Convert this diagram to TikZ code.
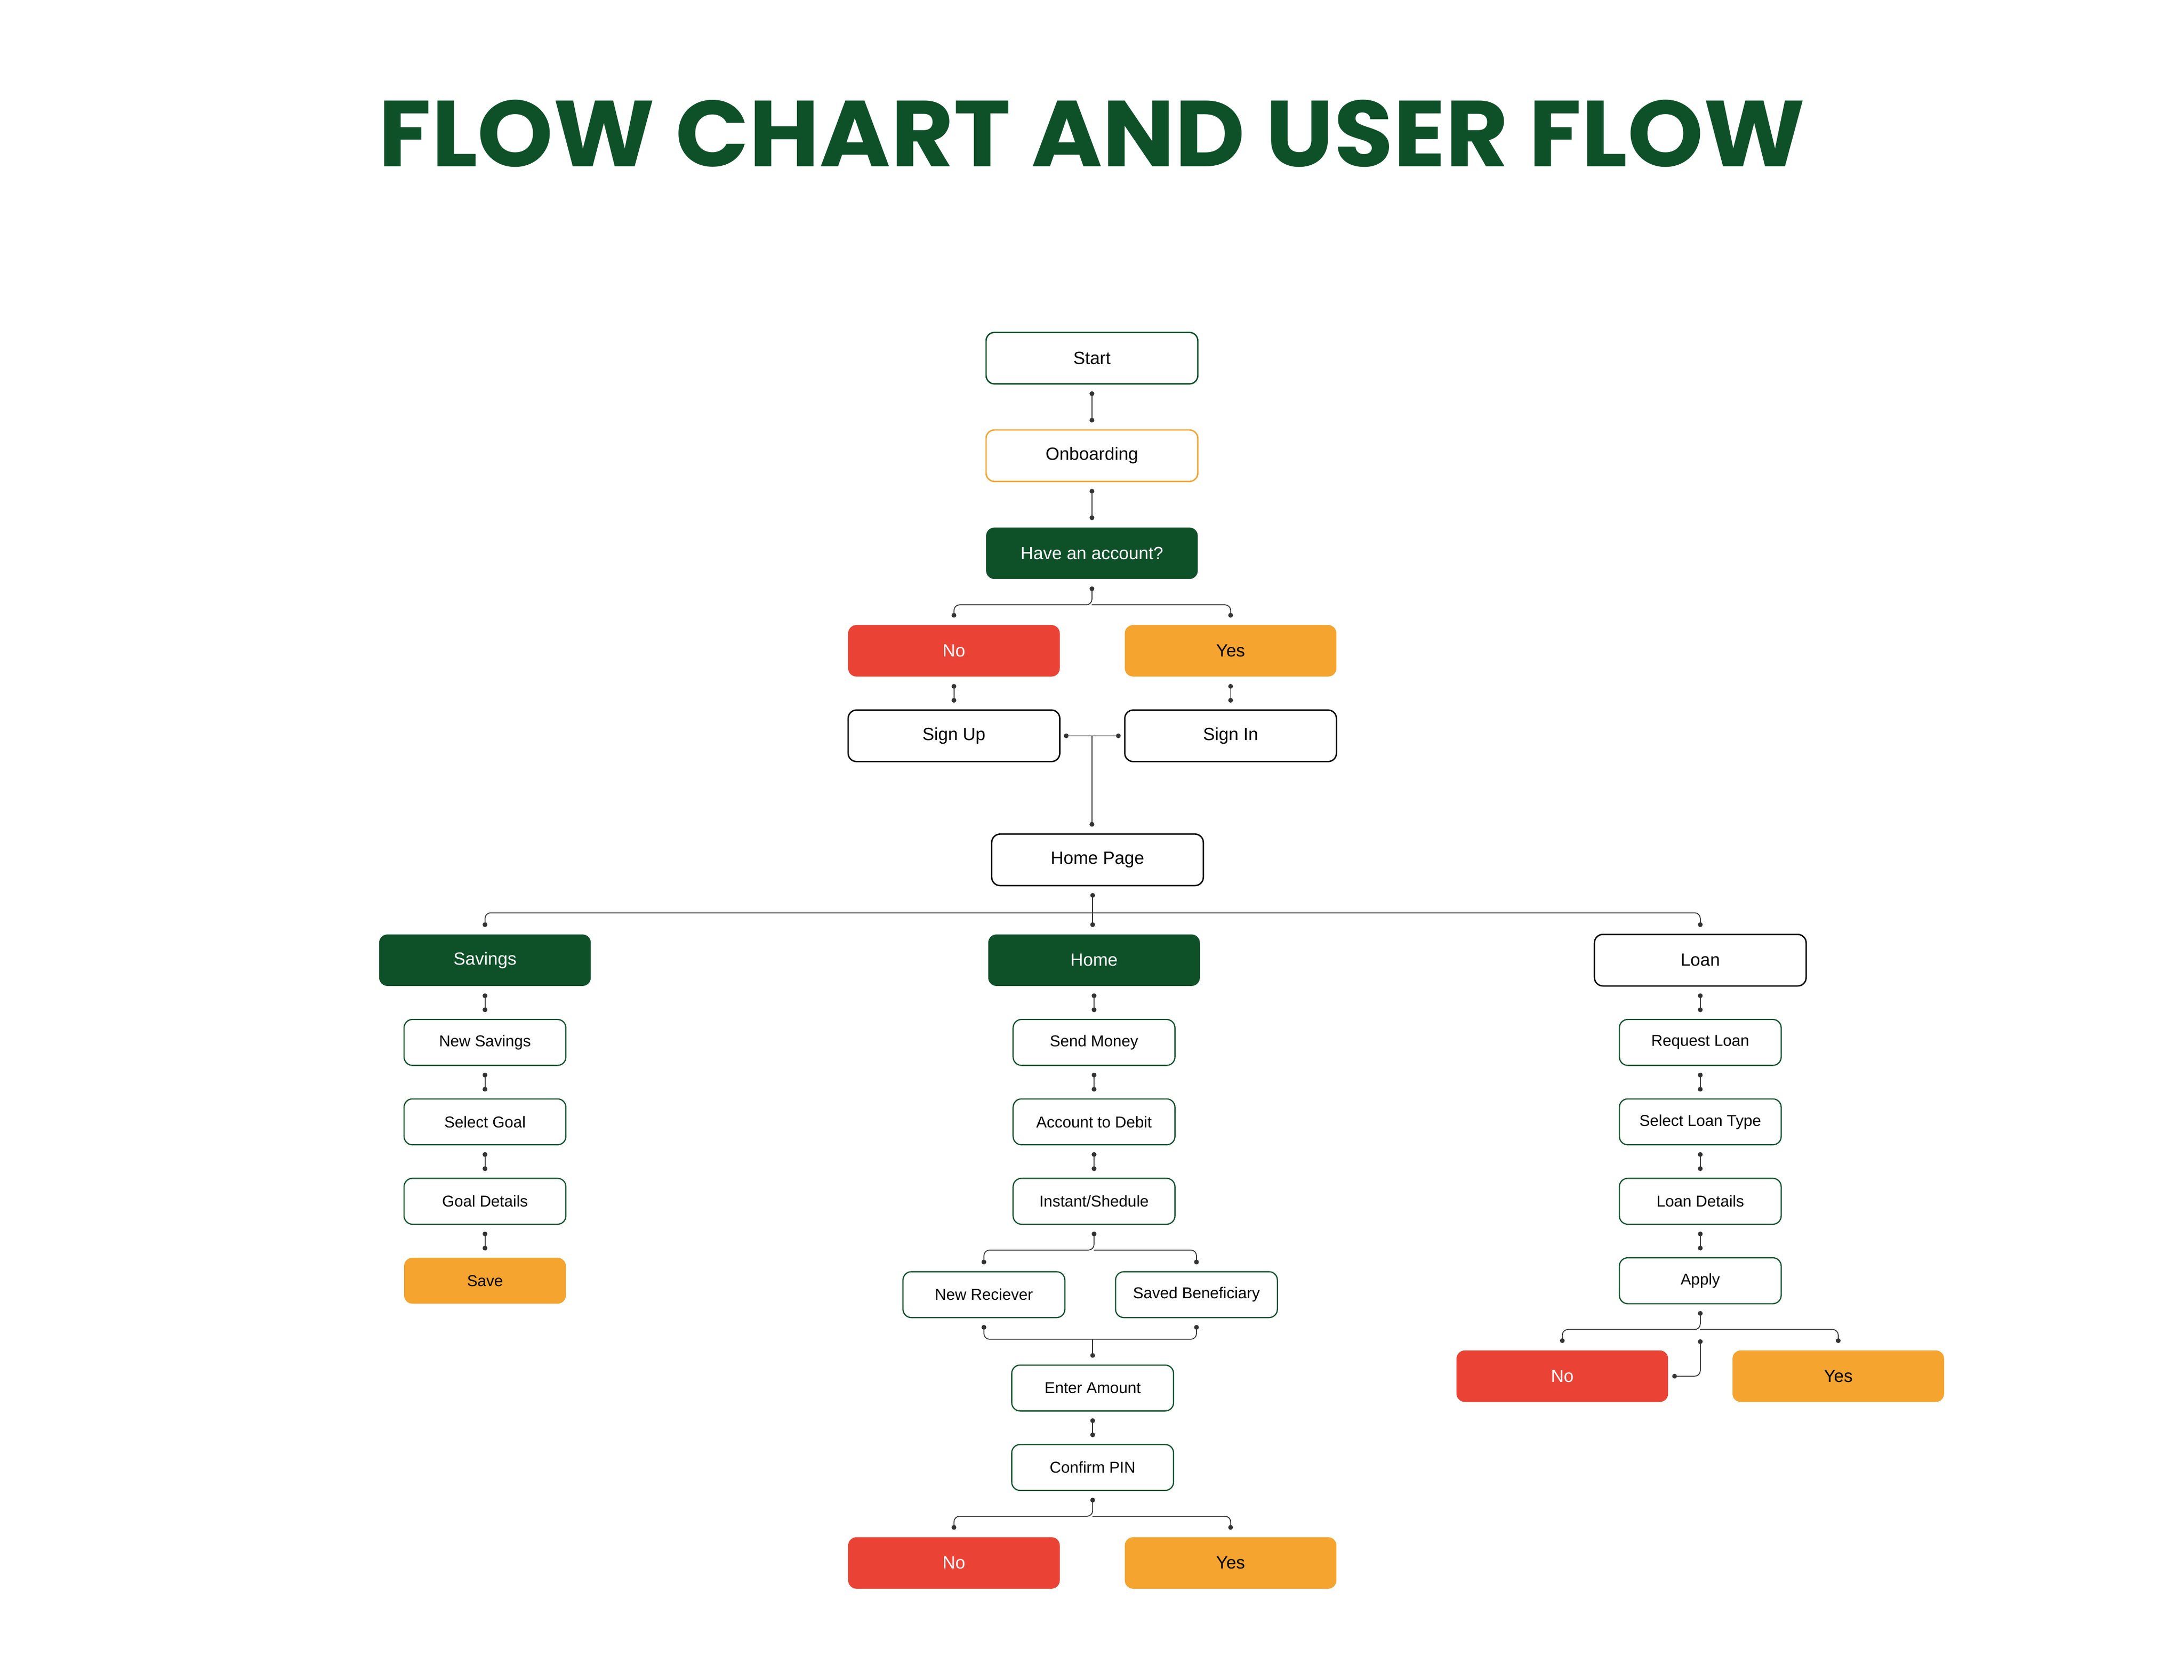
\documentclass[tikz,border=0pt]{standalone}
\usepackage{fontspec}
\setmainfont{Liberation Sans}
\IfFontExistsTF{Poppins Black}{\newfontfamily\titlefont{Poppins Black}}{\newfontfamily\titlefont{Poppins}}
\usetikzlibrary{arrows.meta}
\definecolor{fgreen}{RGB}{14,81,41}
\definecolor{fred}{RGB}{234,67,53}
\definecolor{forange}{RGB}{244,164,47}
\begin{document}
\begin{tikzpicture}[x=0.02489cm, y=-0.02489cm, font=\fontsize{9}{11}\selectfont, line join=round, line cap=round, >={Circle[length=2.4pt]},
	bigbox/.style={rectangle, rounded corners=0.15cm, minimum width=3.78cm, minimum height=0.92cm, line width=0.7pt, inner sep=0pt},
	smallbox/.style={rectangle, rounded corners=0.15cm, minimum width=2.89cm, minimum height=0.82cm, draw=fgreen, line width=0.6pt, inner sep=0pt, font=\fontsize{8}{10}\selectfont},
	greenfill/.style={fill=fgreen, text=white},
	redfill/.style={fill=fred, text=white},
	orangefill/.style={fill=forange},
	link/.style={<->, draw=black!80, line width=0.45pt, rounded corners=0.1cm, shorten <=0.12cm, shorten >=0.12cm},
	linkend/.style={link, -> , shorten <=0pt},
	linkstart/.style={link, <- , shorten >=0pt}]
	%\draw[gray!30, step=50] (0,0) grid (1560,1200);
	\useasboundingbox (0,0) rectangle (39cm,-30cm);
	\node[inner sep=0pt, text=fgreen] (title) at (783.5,96) {\resizebox{25.47cm}{1.19cm}{\titlefont\bfseries FLOW CHART AND USER FLOW}};
	% top part
	\node[bigbox, draw=fgreen] (start) at (783.5,257) {Start};
	\node[bigbox, draw=forange] (onb) at (783.5,327) {Onboarding};
	\node[bigbox, greenfill] (have) at (783.5,397) {Have an account?};
	\node[bigbox, redfill] (no1) at (684.5,467) {No};
	\node[bigbox, orangefill] (yes1) at (883,467) {Yes};
	\node[bigbox, draw=black] (signup) at (684.5,528) {Sign Up};
	\node[bigbox, draw=black] (signin) at (883,528) {Sign In};
	\node[bigbox, draw=black] (hp) at (787.5,617) {Home Page};
	\node[bigbox, greenfill] (sav) at (348,689) {Savings};
	\node[bigbox, greenfill] (home) at (785,689) {Home};
	\node[bigbox, draw=black] (loan) at (1220,689) {Loan};
	% savings
	\node[smallbox] (ns) at (348,748) {New Savings};
	\node[smallbox] (sg) at (348,805) {Select Goal};
	\node[smallbox] (gd) at (348,862) {Goal Details};
	\node[smallbox, draw=none, fill=forange] (save) at (348,919) {Save};
	% home
	\node[smallbox] (sm) at (785,748) {Send Money};
	\node[smallbox] (atd) at (785,805) {Account to Debit};
	\node[smallbox] (ins) at (785,862) {Instant/Shedule};
	\node[smallbox] (nr) at (706,929) {New Reciever};
	\node[smallbox] (sb) at (858.5,929) {Saved Beneficiary};
	\node[smallbox] (ea) at (784,996) {Enter Amount};
	\node[smallbox] (cp) at (784,1053) {Confirm PIN};
	\node[bigbox, redfill] (no2) at (684.5,1121.5) {No};
	\node[bigbox, orangefill] (yes2) at (883,1121.5) {Yes};
	% loan
	\node[smallbox] (rl) at (1220,748) {Request Loan};
	\node[smallbox] (slt) at (1220,805) {Select Loan Type};
	\node[smallbox] (ld) at (1220,862) {Loan Details};
	\node[smallbox] (app) at (1220,919) {Apply};
	\node[bigbox, redfill] (no3) at (1121,987.5) {No};
	\node[bigbox, orangefill] (yes3) at (1319,987.5) {Yes};
	% links
	\foreach \a/\b in {start/onb, onb/have, no1/signup, yes1/signin, sav/ns, ns/sg, sg/gd, gd/save, home/sm, sm/atd, atd/ins, ea/cp, loan/rl, rl/slt, slt/ld, ld/app}
		\draw[link] (\a) -- (\b);
	\coordinate (ha) at (783.5,434);
	\draw[link] (have) -- (ha) -| (no1);
	\draw[linkend] (ha) -| (yes1);
	\coordinate (sj) at (783.5,528);
	\draw[link, shorten <=0.06cm, shorten >=0.06cm] (signup) -- (signin);
	\draw[linkend] (sj) -- (sj |- hp.north);
	\coordinate (hj) at (784,655);
	\draw[link] (hp.south -| hj) -- (hj |- home.north);
	\draw[linkend] (hj) -| (sav);
	\draw[linkend] (hj) -| (loan);
	\coordinate (ij) at (785,897);
	\draw[link] (ins) -- (ij) -| (nr);
	\draw[linkend] (ij) -| (sb);
	\coordinate (mj) at (784,961);
	\draw[linkstart] (nr) |- (mj);
	\draw[linkstart] (sb) |- (mj);
	\draw[linkend] (mj) -- (ea);
	\coordinate (cj) at (784,1088);
	\draw[link] (cp) -- (cj) -| (no2);
	\draw[linkend] (cj) -| (yes2);
	\coordinate (aj) at (1220,954);
	\draw[link] (app) -- (aj) -| (no3);
	\draw[linkend] (aj) -| (yes3);
	\coordinate (rj) at (1220,961);
	\draw[link, shorten <=0pt, shorten >=0.06cm] (rj) |- (no3);
\end{tikzpicture}
\end{document}
